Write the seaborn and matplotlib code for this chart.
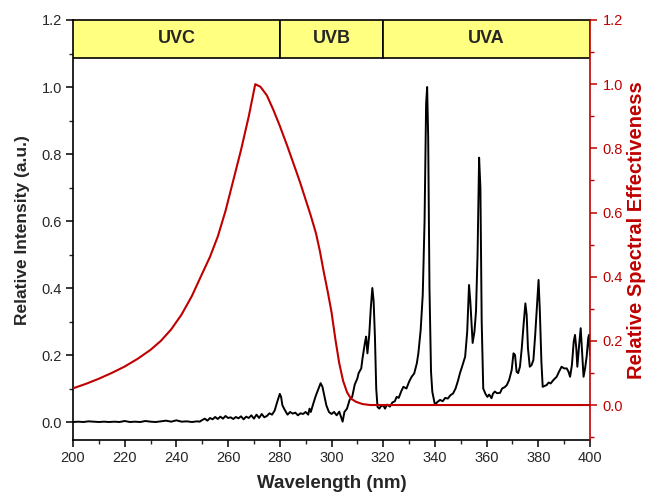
import matplotlib
matplotlib.use("Agg")
import matplotlib.pyplot as plt
from matplotlib.patches import Rectangle
from matplotlib.ticker import MultipleLocator
import seaborn as sns
import pandas as pd

# Emission spectrum of the lamp (normalised to the 337 nm line)
wavelength = [
    200, 202, 204, 206, 208, 210, 212, 214, 216, 218, 220, 222, 224, 226, 228,
    230, 232, 234, 236, 238, 240, 242, 244, 246, 248, 249,
    250, 251, 252, 253, 254, 255, 256, 257, 258, 259, 260, 261, 262, 263, 264,
    265, 266, 267, 268, 269, 270, 271, 272, 273, 274, 275, 276, 277, 278, 279,
    280, 280.5, 281, 282, 283, 284, 285, 286, 287, 288, 289, 290, 291, 291.5,
    292, 293, 294, 295, 295.8, 296.5, 297, 298, 299, 300, 301, 302, 303, 303.7,
    304.3, 305, 306, 307, 308, 309, 310, 310.5, 311.5, 312, 313, 313.4, 313.9,
    314.6, 315.2, 315.8, 316.3, 316.8, 317.3, 317.8, 318.5, 319, 320, 320.7,
    321.5, 322.6, 323.5, 324.5, 325.2, 326, 327, 327.8, 329, 330, 331, 332,
    333, 333.6, 334.5, 335.3, 336.0, 336.6, 337.0, 337.4, 337.9, 338.5, 339,
    340, 341, 342, 343, 344, 345, 346, 347, 348, 349, 349.7, 350.5, 351.7,
    352.5, 353.2, 353.7, 354.6, 355.3, 355.9, 356.5, 357.1, 357.6, 358.1,
    358.7, 359.5, 360.3, 361, 361.9, 362.5, 363.2, 364, 365.2, 366, 367,
    367.8, 368.7, 369.7, 370.4, 371, 371.6, 372.2, 372.9, 373.6, 374.3, 375.0,
    375.5, 376.0, 376.7, 377.4, 378.1, 378.8, 379.5, 380.1, 380.6, 381.2,
    381.7, 382.5, 383.2, 384, 384.8, 385.8, 387.1, 388, 389, 390, 391, 391.7,
    392.3, 393, 393.7, 394.2, 394.7, 395.1, 395.8, 396.4, 397, 397.5, 398.1,
    398.7, 399.3, 399.6, 400,
]
intensity = [
    0.000, 0.001, 0.000, 0.002, 0.001, 0.000, 0.001, 0.000, 0.001, 0.000, 0.003,
    0.000, 0.001, 0.000, 0.003, 0.001, 0.000, 0.002, 0.004, 0.001, 0.005, 0.001,
    0.002, 0.000, 0.002, 0.001,
    0.006, 0.010, 0.004, 0.012, 0.008, 0.015, 0.009, 0.016, 0.010, 0.018, 0.012,
    0.014, 0.009, 0.015, 0.011, 0.017, 0.008, 0.016, 0.012, 0.020, 0.010, 0.022,
    0.012, 0.024, 0.014, 0.018, 0.026, 0.022, 0.034, 0.060,
    0.084, 0.075, 0.050, 0.035, 0.022, 0.030, 0.025, 0.028, 0.020, 0.026, 0.024,
    0.030, 0.022, 0.040, 0.030, 0.056, 0.080, 0.100, 0.116, 0.105, 0.087, 0.050,
    0.030, 0.024, 0.030, 0.020, 0.031, 0.015, 0.001, 0.030, 0.040, 0.066, 0.075,
    0.112, 0.130, 0.146, 0.160, 0.190, 0.240, 0.255, 0.205, 0.260, 0.340, 0.400,
    0.360, 0.255, 0.100, 0.045, 0.040, 0.046, 0.050, 0.040, 0.052, 0.046, 0.058,
    0.062, 0.075, 0.072, 0.092, 0.105, 0.100, 0.120, 0.135, 0.145, 0.175, 0.205,
    0.275, 0.380, 0.600, 0.950, 1.000, 0.850, 0.400, 0.150, 0.090, 0.052, 0.060,
    0.066, 0.062, 0.072, 0.070, 0.080, 0.085, 0.100, 0.125, 0.146, 0.165, 0.195,
    0.270, 0.409, 0.360, 0.236, 0.270, 0.330, 0.500, 0.789, 0.700, 0.300, 0.100,
    0.085, 0.075, 0.082, 0.071, 0.085, 0.091, 0.086, 0.087, 0.100, 0.104, 0.110,
    0.125, 0.155, 0.205, 0.200, 0.150, 0.146, 0.165, 0.220, 0.290, 0.354, 0.320,
    0.220, 0.165, 0.170, 0.185, 0.260, 0.350, 0.424, 0.330, 0.180, 0.105, 0.108,
    0.110, 0.118, 0.115, 0.125, 0.135, 0.150, 0.165, 0.160, 0.160, 0.150, 0.135,
    0.170, 0.240, 0.260, 0.220, 0.165, 0.230, 0.280, 0.200, 0.135, 0.160, 0.195,
    0.250, 0.260, 0.200,
]

# Germicidal action spectrum (relative spectral effectiveness)
eff_wavelength = [
    200, 205, 210, 215, 220, 225, 230, 234, 238, 242, 246, 250, 253, 256, 259,
    262, 265, 268, 270.5, 272.5, 275, 277.5, 280, 283, 286.5, 288, 290, 292,
    294, 295.5, 297, 298.5, 300, 301.5, 303, 304.5, 306, 307.5, 309.5, 312,
    315, 400,
]
effectiveness = [
    0.052, 0.066, 0.082, 0.100, 0.120, 0.144, 0.172, 0.200, 0.236, 0.282, 0.340,
    0.410, 0.462, 0.525, 0.605, 0.700, 0.795, 0.900, 1.000, 0.992, 0.965, 0.920,
    0.870, 0.805, 0.725, 0.690, 0.640, 0.590, 0.535, 0.480, 0.415, 0.355, 0.290,
    0.205, 0.130, 0.075, 0.040, 0.020, 0.010, 0.003, 0.000, 0.000,
]

# UV bands shown across the top of the plot
band_names = ["UVC", "UVB", "UVA"]
band_edges = [200, 280, 320, 400]

RED = "#C00000"

sns.set_style("ticks")
plt.rcParams["font.family"] = ["Liberation Sans", "DejaVu Sans"]

fig = plt.figure(figsize=(6.47, 4.93), dpi=100)
ax = fig.add_axes([73 / 647, 53 / 493, 517 / 647, 420 / 493])

spec = pd.DataFrame({"wl": wavelength, "I": intensity})
sns.lineplot(data=spec, x="wl", y="I", ax=ax, color="black", lw=1.4,
             errorbar=None, sort=False)

ax.set_xlim(200, 400)
ax.set_ylim(-0.0537, 1.2)
ax.xaxis.set_major_locator(MultipleLocator(20))
ax.xaxis.set_minor_locator(MultipleLocator(10))
ax.yaxis.set_major_locator(MultipleLocator(0.2))
ax.yaxis.set_minor_locator(MultipleLocator(0.1))
ax.yaxis.set_major_formatter(plt.FuncFormatter(lambda v, p: f"{v:.1f}"))
ax.tick_params(which="major", direction="out", length=5, width=1.1,
               labelsize=10.5, color="black", top=False, right=False, pad=3)
ax.tick_params(which="minor", direction="out", length=3, width=1.0,
               top=False, right=False)
for side in ["left", "bottom", "top"]:
    ax.spines[side].set_linewidth(1.2)
    ax.spines[side].set_color("black")
ax.spines["right"].set_visible(False)
ax.set_xlabel("Wavelength (nm)", fontsize=13.5, fontweight="bold", labelpad=7)
ax.set_ylabel("Relative Intensity (a.u.)", fontsize=12.5, fontweight="bold",
              labelpad=8)

# Band strip along the top
band_bottom, band_top = 1.087, 1.2
for name, x0, x1 in zip(band_names, band_edges[:-1], band_edges[1:]):
    ax.add_patch(Rectangle((x0, band_bottom), x1 - x0, band_top - band_bottom,
                           facecolor="#FFFF80", edgecolor="black", lw=1.2,
                           zorder=3))
    ax.text((x0 + x1) / 2, (band_bottom + band_top) / 2, name, ha="center",
            va="center", fontsize=13, fontweight="bold", zorder=4)

ax2 = ax.twinx()
eff = pd.DataFrame({"wl": eff_wavelength, "E": effectiveness})
sns.lineplot(data=eff, x="wl", y="E", ax=ax2, color=RED, lw=1.5,
             errorbar=None, sort=False)
ax2.set_ylim(-0.109, 1.2)
ax2.yaxis.set_major_locator(MultipleLocator(0.2))
ax2.yaxis.set_minor_locator(MultipleLocator(0.1))
ax2.yaxis.set_major_formatter(plt.FuncFormatter(lambda v, p: f"{v:.1f}"))
ax2.tick_params(axis="y", which="major", direction="out", length=5, width=1.1,
                labelsize=10.5, colors=RED, pad=4)
ax2.tick_params(axis="y", which="minor", direction="out", length=3, width=1.0,
                colors=RED)
for side in ["left", "bottom", "top"]:
    ax2.spines[side].set_visible(False)
ax2.spines["right"].set_color(RED)
ax2.spines["right"].set_linewidth(1.2)
ax2.set_xlabel("")
ax2.set_ylabel("Relative Spectral Effectiveness", fontsize=14.5,
               fontweight="bold", color=RED, labelpad=3)

fig.savefig("out.png", dpi=100)
